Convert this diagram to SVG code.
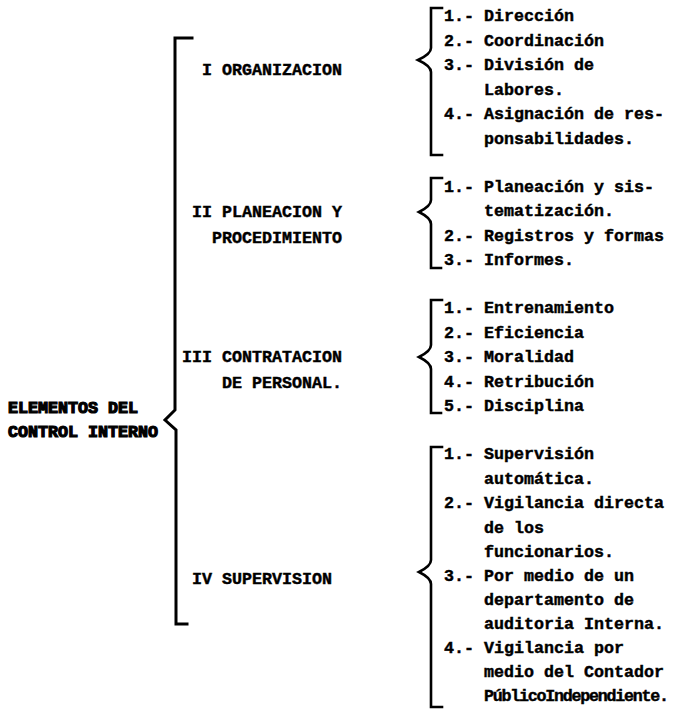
<svg xmlns="http://www.w3.org/2000/svg" width="675" height="714" viewBox="0 0 675 714">
<style>
text { font-family: "Liberation Mono", "Courier New", monospace; font-weight: bold; font-size: 16.67px; fill: #000; stroke: #000; stroke-width: 0.45; }
.brace { fill: none; stroke: #000; stroke-width: 3; stroke-linejoin: miter; stroke-linecap: square; }
.sm { stroke-width: 2.6; }
.blot { stroke-width: 1.2; }
.tight { letter-spacing: -1.25px; }
</style>
<rect width="675" height="714" fill="#fff"/>
<g id="connectors">
  <path class="brace" d="M192 38 H175 V410 L165 420 L176 430 V624 H187"/>
  <path class="brace sm" d="M442 8 H431 V48 Q431 54 418 60 Q431 66 431 72 V155 H442"/>
  <path class="brace sm" d="M442 178 H431 V200 Q431 206 419 212 Q431 218 431 224 V268 H441"/>
  <path class="brace sm" d="M442 300 H431 V345 Q431 351 419 357 Q431 363 431 369 V413 H441"/>
  <path class="brace sm" d="M442 447 H431 V560 Q431 566 419 572 Q431 578 431 584 V707 H442"/>
</g>
<g id="root">
  <text class="blot" x="8" y="413">ELEMENTOS DEL</text>
  <text class="blot" x="8" y="437">CONTROL INTERNO</text>
</g>
<g id="cat1"><text x="202" y="75">I ORGANIZACION</text></g>
<g id="cat2">
  <text x="192" y="217">II PLANEACION Y</text>
  <text x="212" y="243">PROCEDIMIENTO</text>
</g>
<g id="cat3">
  <text x="182" y="362">III CONTRATACION</text>
  <text x="222" y="388">DE PERSONAL.</text>
</g>
<g id="cat4"><text x="192" y="584">IV SUPERVISION</text></g>
<g id="list1">
  <text x="444" y="21">1.- Dirección</text>
  <text x="444" y="45.5">2.- Coordinación</text>
  <text x="444" y="70">3.- División de</text>
  <text x="484" y="94.5">Labores.</text>
  <text x="444" y="119">4.- Asignación de res-</text>
  <text x="484" y="143.5">ponsabilidades.</text>
</g>
<g id="list2">
  <text x="444" y="191.5">1.- Planeación y sis-</text>
  <text x="484" y="216">tematización.</text>
  <text x="444" y="240.5">2.- Registros y formas</text>
  <text x="444" y="265">3.- Informes.</text>
</g>
<g id="list3">
  <text x="444" y="313">1.- Entrenamiento</text>
  <text x="444" y="337.5">2.- Eficiencia</text>
  <text x="444" y="362">3.- Moralidad</text>
  <text x="444" y="386.5">4.- Retribución</text>
  <text x="444" y="411">5.- Disciplina</text>
</g>
<g id="list4">
  <text x="444" y="459">1.- Supervisión</text>
  <text x="484" y="483.5">automática.</text>
  <text x="444" y="508">2.- Vigilancia directa</text>
  <text x="484" y="532.5">de los</text>
  <text x="484" y="557">funcionarios.</text>
  <text x="444" y="581">3.- Por medio de un</text>
  <text x="484" y="605">departamento de</text>
  <text x="484" y="629">auditoria Interna.</text>
  <text x="444" y="653">4.- Vigilancia por</text>
  <text x="484" y="677">medio del Contador</text>
  <text class="tight" x="484" y="701">PúblicoIndependiente.</text>
</g>
</svg>
